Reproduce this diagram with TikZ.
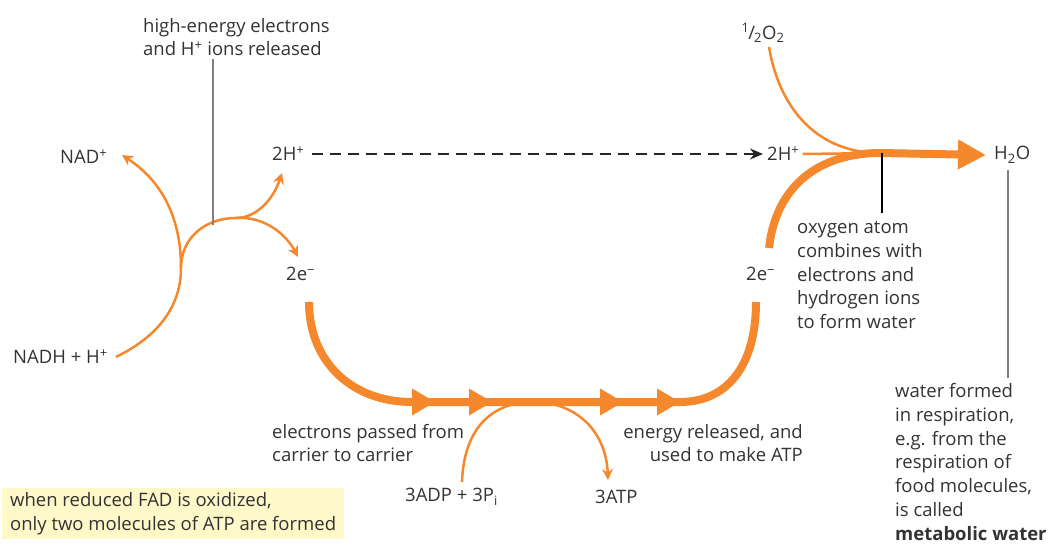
\documentclass[tikz,border=0pt]{standalone}
\usepackage{fontspec}
\setmainfont{Open Sans}
\usetikzlibrary{arrows.meta}
\definecolor{resporange}{RGB}{245,135,45}
\definecolor{resptext}{RGB}{51,51,51}
\definecolor{respnote}{RGB}{255,248,200}

\begin{document}
\begin{tikzpicture}[x=1pt,y=-1pt,
  lbl/.style={inner sep=0pt,text=resptext,font=\fontsize{18.5}{23.8}\selectfont},
  thin path/.style={resporange,line width=2.5pt},
  thick path/.style={resporange,line width=8pt},
  thin tip/.style={-{Stealth[length=11pt,width=11pt]}},
  pointer/.style={line width=1.2pt}]
  \useasboundingbox (0,0) rectangle (1052,545);

  % labels
  \node[lbl,anchor=west,align=left] (highe) at (143,37) {high-energy electrons\\and H\textsuperscript{+} ions released};
  \node[lbl,anchor=west] (nad) at (60,157) {NAD\textsuperscript{+}};
  \node[lbl,anchor=west] (nadh) at (13,357) {NADH + H\textsuperscript{+}};
  \node[lbl,anchor=west] (hleft) at (272,154) {2H\textsuperscript{+}};
  \node[lbl,anchor=west] (hright) at (767,154) {2H\textsuperscript{+}};
  \node[lbl,anchor=west] (eleft) at (286,274) {2e\textsuperscript{−}};
  \node[lbl,anchor=west] (eright) at (746,274) {2e\textsuperscript{−}};
  \node[lbl] (oxy) at (763,33) {\textsuperscript{1}\kern-1pt/\kern-1pt\textsubscript{2}O\textsubscript{2}};
  \node[lbl,anchor=west] (water) at (994,155) {H\textsubscript{2}O};
  \node[lbl,anchor=west,align=left] (combine) at (797,275) {oxygen atom\\combines with\\electrons and\\hydrogen ions\\to form water};
  \node[lbl,anchor=west,align=left] (metab) at (895,462) {water formed\\in respiration,\\e.g. from the\\respiration of\\food molecules,\\is called\\\textbf{metabolic water}};
  \node[lbl,anchor=west,align=left] (passed) at (272,443) {electrons passed from\\carrier to carrier};
  \node[lbl,anchor=east,align=right] (energy) at (803,443) {energy released, and\\used to make ATP};
  \node[lbl,anchor=west] (adp) at (405,497) {3ADP + 3P\textsubscript{i}};
  \node[lbl,anchor=west] (atp) at (595,497) {3ATP};
  \node[lbl,fill=respnote,anchor=north west,align=left,inner xsep=8pt,inner ysep=4pt]
    (fad) at (2,488) {when reduced FAD is oxidized,\\only two molecules of ATP are formed};

  \coordinate (turn) at (181,268);
  \coordinate (split) at (236,218);
  \coordinate (nadtip) at (122,155);
  \coordinate (htip) at (282,173);
  \coordinate (etip) at (298,257);
  \coordinate (heefoot) at (213,225);
  \coordinate (edown) at (309,302);
  \coordinate (eback) at (756,302);
  \coordinate (eup) at (769,248);
  \coordinate (join) at (880,153);
  \coordinate (combtop) at (882,213);
  \coordinate (metabtop) at (1008,378);
  \coordinate (adpfoot) at (462,482);
  \coordinate (atptip) at (608,480);

  % NADH oxidation
  \draw[thin path] ([xshift=8pt]nadh.east) .. controls (165,333) and (181,300) .. (turn)
    .. controls (181,238) and (205,218) .. (split);
  \draw[thin path,thin tip] (turn) .. controls (181,215) and (160,180) .. (nadtip);
  \draw[thin path,thin tip] (split) .. controls (256,218) and (273,200) .. (htip);
  \draw[thin path,thin tip] (split) .. controls (266,216) and (287,236) .. (etip);
  \draw[gray,pointer,shorten <=3pt] (heefoot |- highe.south) -- (heefoot);

  % hydrogen ions
  \draw[black!85,line width=2.5pt,dash pattern=on 11pt off 7pt,-{Stealth[length=13pt,width=11pt]}]
    ([xshift=7pt]hleft.east) -- ([xshift=-4pt]hright.west);

  % electron transport chain
  \draw[thick path] (edown) .. controls (309,362) and (352,402) .. (412,402) -- (680,402)
    .. controls (727,402) and (756,366) .. (eback);
  \foreach \tip in {435,492,623,680}
    \fill[resporange] (\tip,402) -- (\tip-23,388.5) -- (\tip-23,415.5) -- cycle;
  \draw[thin path,thin tip] (adpfoot) .. controls (464,425) and (495,402) .. (533,402)
    .. controls (575,402) and (606,430) .. (atptip);

  % water
  \draw[thin path] (769,47) .. controls (780,112) and (820,153) .. (join);
  \draw[thin path] ([xshift=3pt]hright.east) -- (join);
  \draw[thick path,-{Triangle[length=28pt,width=28pt]}] (eup) .. controls (776,185) and (820,153) .. (join)
    -- ([xshift=-8pt]water.west);
  \draw[black,pointer] (combtop |- join) -- (combtop);
  \draw[gray,pointer,shorten <=6pt] (metabtop |- water.south) -- (metabtop);
\end{tikzpicture}
\end{document}
